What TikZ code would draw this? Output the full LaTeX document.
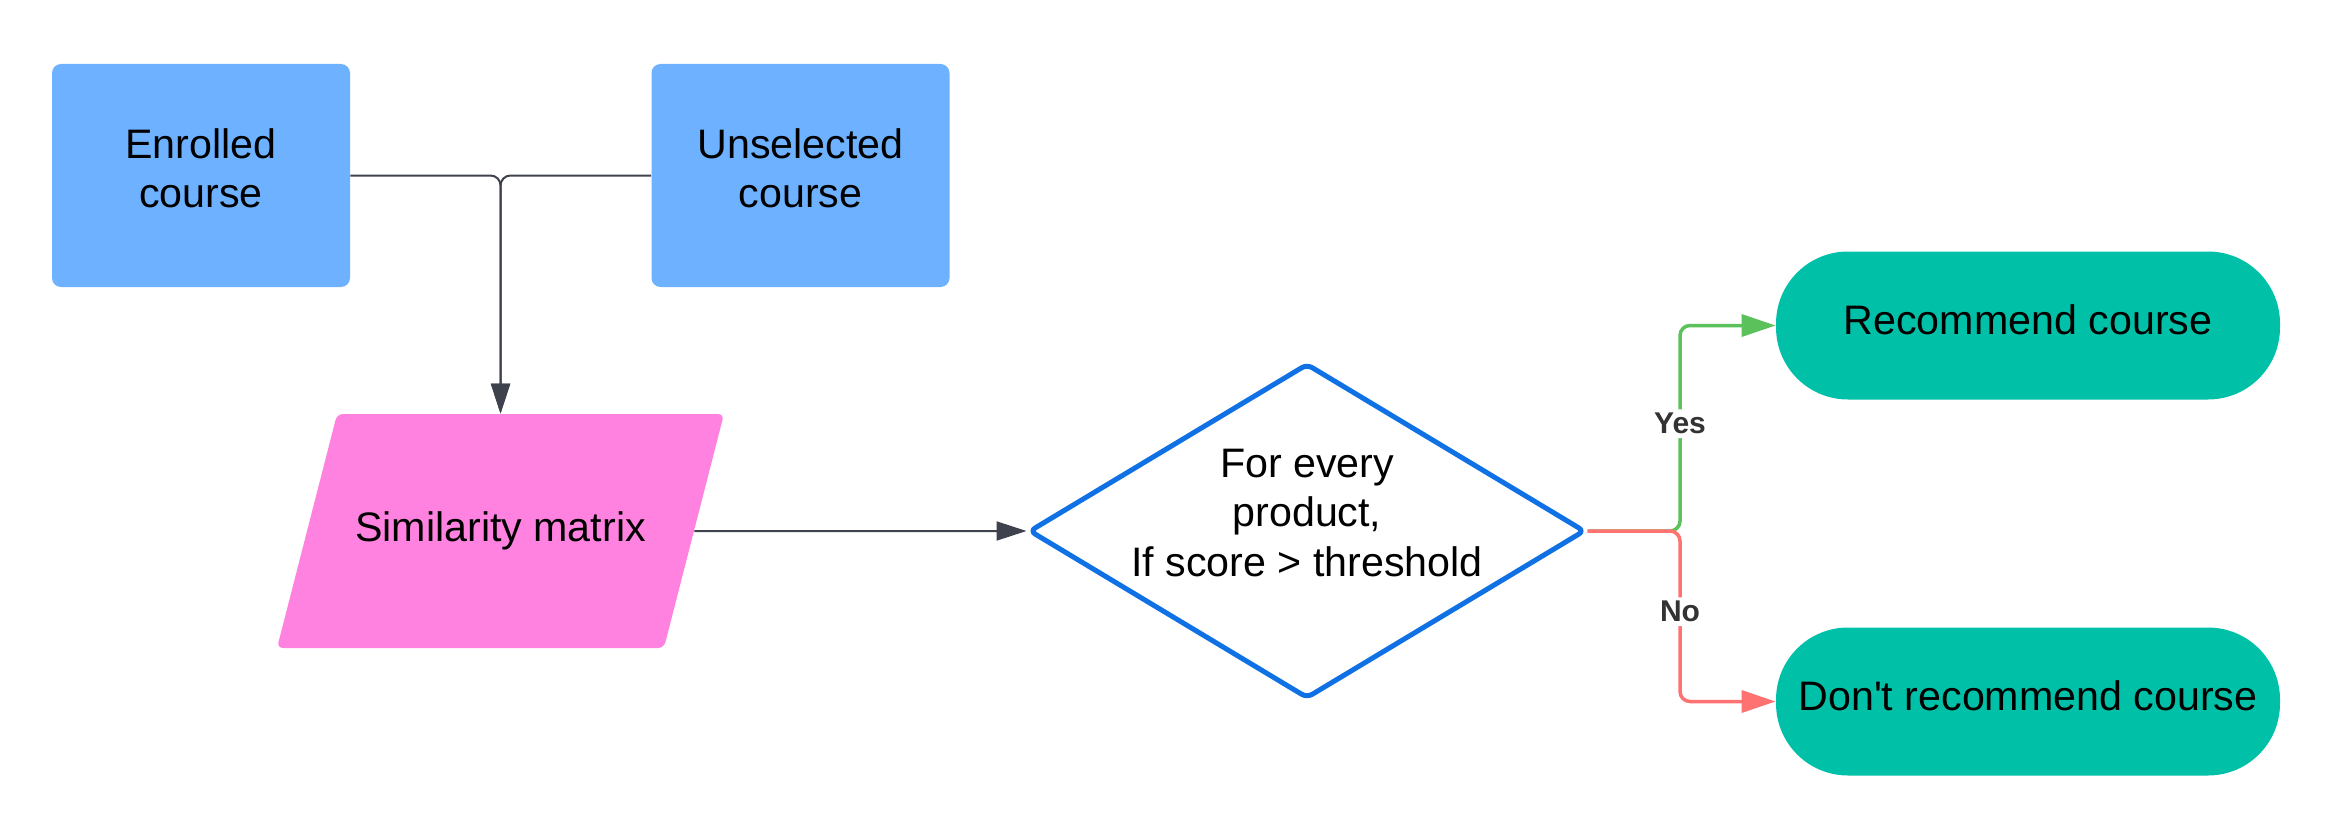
\documentclass[tikz,border=0pt]{standalone}
\usepackage{fontspec}
\setmainfont{Liberation Sans}
\usetikzlibrary{shapes.geometric,arrows.meta}

\definecolor{boxblue}{HTML}{6DB1FF}
\definecolor{simpink}{HTML}{FF82E0}
\definecolor{endteal}{HTML}{00C1A8}
\definecolor{condblue}{HTML}{1071E5}
\definecolor{yesgreen}{HTML}{5BC15B}
\definecolor{nored}{HTML}{FF7272}
\definecolor{linegray}{HTML}{3D424C}
\definecolor{lblgray}{HTML}{333333}

\tikzset{
	txt/.style={align=center, font=\fontsize{20.6}{24.75}\selectfont},
	course/.style={txt, rectangle, fill=boxblue, rounded corners=4.5pt,
		minimum width=149pt, minimum height=111.5pt, text depth=7.5pt},
	simbox/.style={txt, trapezium, trapezium stretches body=true, fill=simpink,
		trapezium left angle=75.6, trapezium right angle=104.4, rounded corners=3pt,
		text height=15pt, text depth=4.3pt, inner ysep=48.85pt, minimum width=223.5pt},
	decision/.style={diamond, draw=condblue, line width=2.5pt, fill=white,
		inner sep=0pt, rounded corners=3pt, minimum width=278pt, minimum height=167.5pt},
	outcome/.style={txt, rectangle, fill=endteal, rounded corners=36pt,
		minimum width=252pt, minimum height=74pt, text depth=6pt},
	flow/.style={draw=linegray, line width=1pt, rounded corners=5pt,
		-{Triangle[length=15pt,width=9.5pt]}},
	yesline/.style={draw=yesgreen, line width=1.75pt, rounded corners=5pt,
		-{Triangle[length=17pt,width=11pt,fill=yesgreen]}},
	noline/.style={draw=nored, line width=1.75pt, rounded corners=5pt,
		-{Triangle[length=17pt,width=11pt,fill=nored]}},
	choice/.style={fill=white, text=lblgray, inner sep=2pt, yshift=2.25pt,
		font=\fontsize{15}{18}\selectfont\bfseries}
}

\begin{document}
\begin{tikzpicture}[x=0.5pt,y=-0.5pt]
	\useasboundingbox (0,0) rectangle (2351,840);

	% INPUTS
	\node[course] (enrolled) at (201,175.5) {Enrolled\\course};
	\node[course] (unselected) at (800.5,175.5) {Unselected\\course};

	% MATRIX AND TEST
	\node[simbox] (sim) at (500.5,531) {Similarity matrix};
	\node[decision] (cond) at (1307,531) {};
	\node[txt] (condtxt) at ([yshift=9pt]cond.center) {For every\\product,\\If score > threshold};

	% OUTCOMES
	\node[outcome] (rec) at (2028,325.5) {Recommend course};
	\node[outcome] (norec) at (2028,701.5) {Don\textquotesingle t recommend course};
	\coordinate (split) at (1680,531);

	\draw[flow] (enrolled.east) -| (sim.north);
	\draw[flow] (unselected.west) -| (sim.north);
	\draw[flow] (sim.east) -- (cond.west);
	\draw[yesline] (cond.east) -- (split) |- node[choice,pos=.25] {Yes} (rec.west);
	\draw[noline] (cond.east) -- (split) |- node[choice,pos=.25] {No} (norec.west);
\end{tikzpicture}
\end{document}
